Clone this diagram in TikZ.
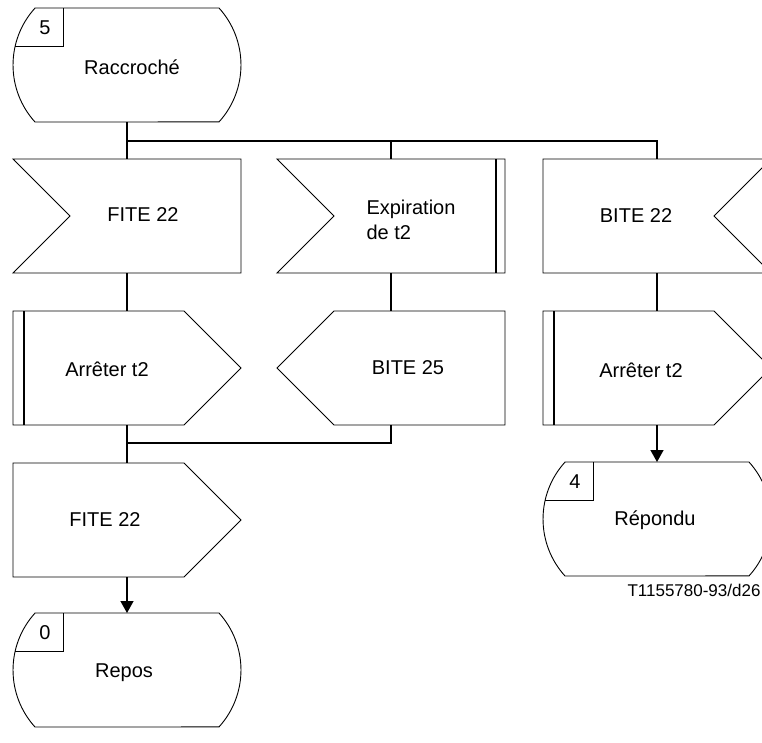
\documentclass[tikz,border=0pt]{standalone}
\usepackage{fontspec}
\setmainfont{Liberation Sans}
\usetikzlibrary{arrows.meta}
\tikzset{
 box/.style={minimum width=228pt, minimum height=114pt, inner sep=0pt, outer sep=0pt},
 outline/.style={draw=black, line width=0.9pt, line join=miter},
 conn/.style={draw=black, line width=1.4pt},
 arr/.style={conn, -{Triangle[length=12pt,width=13pt]}},
 txt/.style={font=\fontsize{20}{25}\selectfont, inner sep=0pt},
 num/.style={font=\fontsize{20}{24}\selectfont, inner sep=0pt},
 timer/.style={draw=black, line width=2.4pt},
 small/.style={font=\fontsize{17}{20}\selectfont, inner sep=0pt}
}
\newcommand\drawstate[2]{%
 \draw[outline] ([xshift=22pt]#1.north west) -- ([xshift=-22pt]#1.north east)
   arc[start angle=42.2,end angle=-42.2,radius=84.8pt]
   -- ([xshift=22pt]#1.south west)
   arc[start angle=222.2,end angle=137.8,radius=84.8pt] -- cycle;
 \draw[outline] ([xshift=50pt]#1.north west) -- ++(0,-38pt) -- ++(-47.8pt,0);
 \node[num] (#1n) at ([xshift=32pt,yshift=-20pt]#1.north west) {#2};
}
\newcommand\drawinleft[1]{%
 \draw[outline] (#1.north west) -- (#1.north east) -- (#1.south east) -- (#1.south west) -- ([xshift=57pt]#1.west) -- cycle;
}
\newcommand\drawinright[1]{%
 \draw[outline] (#1.north west) -- (#1.north east) -- ([xshift=-57pt]#1.east) -- (#1.south east) -- (#1.south west) -- cycle;
}
\newcommand\drawoutright[1]{%
 \draw[outline] (#1.north west) -- ([xshift=-57pt]#1.north east) -- (#1.east) -- ([xshift=-57pt]#1.south east) -- (#1.south west) -- cycle;
}
\newcommand\drawoutleft[1]{%
 \draw[outline] (#1.west) -- ([xshift=57pt]#1.north west) -- (#1.north east) -- (#1.south east) -- ([xshift=57pt]#1.south west) -- cycle;
}
\begin{document}
\begin{tikzpicture}[x=1pt,y=1pt]
\useasboundingbox (0,0) rectangle (762,-742);
\clip (0,0) rectangle (762,-742);
% shape nodes
\node[box] (s5) at (127,-65) {};
\node[box] (i1) at (127,-216) {};
\node[box] (i2) at (391,-216) {};
\node[box] (i3) at (657,-216) {};
\node[box] (o1) at (127,-368) {};
\node[box] (o2) at (391,-368) {};
\node[box] (o3) at (657,-368) {};
\node[box] (o4) at (127,-520) {};
\node[box] (s0) at (127,-670) {};
\node[box] (s4) at (657,-519) {};
% outlines
\drawstate{s5}{5}
\drawstate{s0}{0}
\drawstate{s4}{4}
\drawinleft{i1}
\drawinleft{i2}
\draw[timer] ([xshift=-9pt]i2.north east) -- ([xshift=-9pt]i2.south east);
\drawinright{i3}
\drawoutright{o1}
\draw[timer] ([xshift=11pt]o1.north west) -- ([xshift=11pt]o1.south west);
\drawoutleft{o2}
\drawoutright{o3}
\draw[timer] ([xshift=11pt]o3.north west) -- ([xshift=11pt]o3.south west);
\drawoutright{o4}
% texts
\node[txt] (t5) at (132,-67) {Raccroché};
\node[txt] (ti1) at (143,-215) {FITE 22};
\node[txt, align=left] (ti2) at (411,-220) {Expiration\\de t2};
\node[txt] (ti3) at (636,-216) {BITE 22};
\node[txt] (to1) at (107,-369) {Arrêter t2};
\node[txt] (to2) at (408,-368) {BITE 25};
\node[txt] (to3) at (641,-370) {Arrêter t2};
\node[txt] (to4) at (105,-520) {FITE 22};
\node[txt] (t0) at (124,-673) {Repos};
\node[txt] (t4) at (655,-520) {Répondu};
\node[small] (lab) at (694,-590) {T1155780-93/d26};
% connectors
\coordinate (br) at (127,-141);
\coordinate (br2) at (391,-141);
\coordinate (mg) at (127,-443);
\draw[conn] (s5.south) -- (i1.north);
\draw[conn] (br) -| (i3.north);
\draw[conn] (br2) -- (i2.north);
\draw[conn] (i1.south) -- (o1.north);
\draw[conn] (i2.south) -- (o2.north);
\draw[conn] (i3.south) -- (o3.north);
\draw[conn] (o1.south) -- (o4.north);
\draw[conn] (o2.south) |- (mg);
\draw[arr] (o4.south) -- (s0.north);
\draw[arr] (o3.south) -- (s4.north);
\end{tikzpicture}
\end{document}
